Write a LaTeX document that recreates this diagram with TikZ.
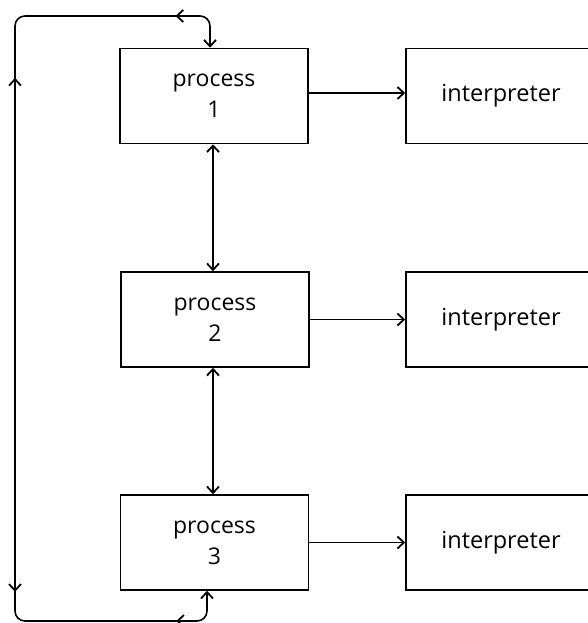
\documentclass[tikz,border=0pt]{standalone}
\usepackage{fontspec}
\setmainfont{Open Sans}
\usetikzlibrary{arrows.meta,decorations.markings}
\tikzset{
  barb/.tip={Straight Barb[length=6.5pt,width=12pt,line width=1.8pt]},
  pbox/.style={draw,line width=1.5pt,minimum width=188pt,minimum height=95pt,inner sep=0pt,align=center,font=\fontsize{23}{31}\selectfont},
  ibox/.style={draw,line width=1.5pt,minimum width=190pt,minimum height=95pt,inner sep=0pt,font=\fontsize{23.5}{31}\selectfont},
  conn/.style={line width=1.6pt},
  loopline/.style={line width=1.6pt,rounded corners=10pt},
}
\begin{document}
\begin{tikzpicture}[x=1pt,y=-1pt]
\clip (0,0) rectangle (588,623);
\fill[white] (0,0) rectangle (588,623);
\node[pbox] (p1) at (214,96) {process\\1};
\node[pbox] (p2) at (215,319.5) {process\\2};
\node[pbox] (p3) at (214.5,542.5) {process\\3};
\node[ibox] (i1) at (501,96) {interpreter};
\node[ibox] (i2) at (501,319.5) {interpreter};
\node[ibox] (i3) at (501,542.5) {interpreter};
\draw[conn,-{barb}] (p1.east |- 0,93) -- (i1.west |- 0,93);
\draw[conn,-{barb}] (p2.east) -- (i2.west);
\draw[conn,-{barb}] (p3.east) -- (i3.west);
\draw[conn,{barb}-{barb}] (p1.south -| 213,0) -- (p2.north -| 213,0);
\draw[conn,{barb}-{barb}] (p2.south -| 213,0) -- (p3.north -| 213,0);
\coordinate (a) at (p1.north -| 210,0);
\coordinate (b) at (p3.south -| 207,0);
\coordinate (tl) at (15,16);
\coordinate (bl) at (15,621);
\draw[loopline,{barb}-{barb},
  postaction={decorate,decoration={markings,
    mark=at position 62pt with {\arrow{barb}},
    mark=at position 280pt with {\arrowreversed{barb}},
    mark=at position 794pt with {\arrow{barb}},
    mark=at position 980pt with {\arrowreversed{barb}}}}]
  (a) -- (a |- tl) -- (tl) -- (bl) -- (b |- bl) -- (b);
\end{tikzpicture}
\end{document}
